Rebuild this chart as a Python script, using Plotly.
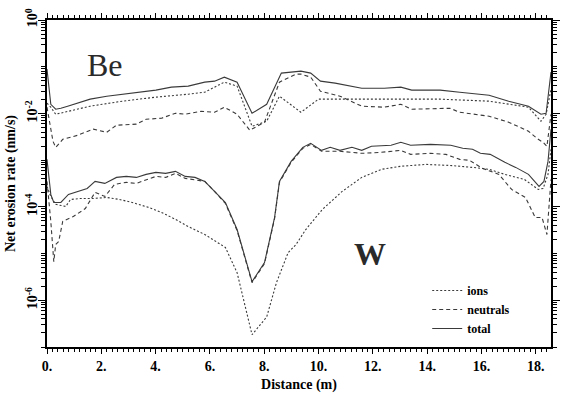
import plotly.graph_objects as go

# ---------------- data ----------------
be_total_x = [0.0, 0.14, 0.32, 0.51, 0.76, 1.59, 2.20, 2.78, 3.39, 4.01, 4.58, 5.20, 5.81, 6.17, 6.53, 7.00,
              7.55, 8.09, 8.63, 9.17, 9.35, 9.71, 10.07, 10.61, 11.59, 12.42, 13.03, 13.43, 14.48, 15.20,
              16.28, 17.00, 17.73, 18.19, 18.38, 18.56]
be_total_y = [8.9e-2, 1.57e-2, 1.23e-2, 1.29e-2, 1.43e-2, 2.02e-2, 2.34e-2, 2.58e-2, 2.85e-2, 3.15e-2, 3.65e-2,
              3.84e-2, 4.67e-2, 4.91e-2, 5.98e-2, 4.67e-2, 1.01e-2, 1.57e-2, 7.29e-2, 8.05e-2, 8.05e-2, 7.29e-2,
              4.91e-2, 4.45e-2, 3.47e-2, 3.47e-2, 3.65e-2, 3.15e-2, 3.15e-2, 2.85e-2, 2.46e-2, 1.83e-2,
              1.43e-2, 9.6e-3, 1.01e-2, 7.66e-2]

be_ions_x = [0.0, 0.14, 0.32, 0.76, 1.59, 2.78, 4.01, 5.20, 5.81, 6.53, 7.00, 7.55, 8.09, 8.56, 9.35, 10.0,
             10.97, 14.48, 16.28, 17.73, 18.19, 18.38, 18.56]
be_ions_y = [1.66e-2, 1.36e-2, 9.6e-3, 1.11e-2, 1.43e-2, 1.83e-2, 2.23e-2, 2.58e-2, 2.85e-2, 4.67e-2, 3.84e-2,
             5.3e-3, 6.8e-3, 2.34e-2, 1.06e-2, 2.02e-2, 2.02e-2, 2.02e-2, 1.83e-2, 1.36e-2, 6.8e-3, 9.6e-3,
             3.3e-2]

be_neut_x = [0.0, 0.22, 0.32, 0.58, 1.12, 1.70, 2.20, 2.56, 3.29, 3.65, 4.22, 4.73, 5.09, 5.67, 6.17, 6.53,
             7.00, 7.47, 8.01, 8.56, 9.17, 9.35, 9.71, 10.07, 10.79, 11.59, 12.42, 13.03, 13.43, 14.84,
             15.20, 16.28, 17.00, 17.73, 18.09, 18.27, 18.41, 18.56]
be_neut_y = [1.36e-2, 2.53e-3, 1.88e-3, 2.79e-3, 3.4e-3, 4.6e-3, 3.95e-3, 5.6e-3, 5.9e-3, 7.5e-3, 7.9e-3,
             1.01e-2, 9.6e-3, 1.11e-2, 1.06e-2, 1.36e-2, 9.6e-3, 4.36e-3, 6.5e-3, 4.67e-2, 6.94e-2, 6.94e-2,
             5.98e-2, 2.99e-2, 2.34e-2, 1.43e-2, 1.36e-2, 1.57e-2, 1.23e-2, 1.29e-2, 1.06e-2, 8.7e-3,
             6.5e-3, 4.15e-3, 2.79e-3, 2.41e-3, 1.98e-3, 9.6e-3]

w_total_x = [0.0, 0.14, 0.25, 0.51, 0.79, 1.12, 1.48, 1.77, 2.13, 2.56, 2.92, 3.29, 3.65, 4.01, 4.37, 4.73,
             5.09, 5.45, 5.81, 6.17, 6.57, 7.00, 7.55, 8.01, 8.38, 8.56, 8.99, 9.42, 9.71, 10.11, 10.43,
             10.79, 11.23, 11.59, 11.95, 12.67, 13.03, 13.39, 14.12, 14.87, 15.31, 15.67, 15.96, 16.32,
             16.86, 17.26, 17.73, 18.12, 18.30, 18.45, 18.56]
w_total_y = [1.04e-3, 1.85e-4, 1.24e-4, 1.24e-4, 1.85e-4, 2.14e-4, 2.48e-4, 3.51e-4, 3.18e-4, 4.27e-4, 4.49e-4,
             4.27e-4, 4.96e-4, 5.47e-4, 5.21e-4, 5.75e-4, 4.49e-4, 4.27e-4, 3.51e-4, 2.14e-4, 1.24e-4, 3.27e-5,
             2.5e-6, 6.4e-6, 5.9e-5, 3.51e-4, 9.4e-4, 1.88e-3, 2.29e-3, 1.62e-3, 1.88e-3, 1.62e-3, 1.88e-3,
             1.62e-3, 1.98e-3, 2.08e-3, 2.41e-3, 2.08e-3, 2.18e-3, 2.08e-3, 1.79e-3, 1.71e-3, 1.40e-3,
             1.33e-3, 8.97e-4, 7.0e-4, 4.96e-4, 2.74e-4, 3.51e-4, 9.4e-4, 4.6e-3]

w_neut_x = [0.0, 0.14, 0.25, 0.32, 0.43, 0.58, 0.97, 1.41, 1.77, 2.13, 2.49, 2.92, 3.29, 4.01, 4.37, 4.73,
            5.09, 5.81, 6.17, 6.57, 7.00, 7.55, 8.01, 8.38, 8.56, 8.99, 9.42, 9.71, 10.11, 10.79, 11.59,
            12.31, 13.03, 13.39, 14.12, 14.69, 15.20, 15.56, 16.03, 16.64, 17.11, 17.62, 17.98, 18.23,
            18.41, 18.56]
w_neut_y = [3.51e-4, 4.9e-5, 6.7e-6, 1.56e-5, 1.81e-5, 4.9e-5, 6.2e-5, 9.2e-5, 2.04e-4, 1.67e-4, 3.03e-4,
            3.34e-4, 3.18e-4, 4.49e-4, 4.27e-4, 5.21e-4, 4.07e-4, 3.51e-4, 2.14e-4, 1.18e-4, 3.1e-5, 2.39e-6,
            6.1e-6, 5.6e-5, 3.34e-4, 8.97e-4, 1.79e-3, 2.18e-3, 1.55e-3, 1.55e-3, 1.40e-3, 1.47e-3, 1.62e-3,
            1.33e-3, 1.40e-3, 1.33e-3, 1.04e-3, 9.9e-4, 6.7e-4, 4.96e-4, 2.36e-4, 1.59e-4, 5.9e-5, 5.9e-5,
            2.56e-5, 3.87e-4]

w_ions_x = [0.0, 0.14, 0.32, 0.69, 0.87, 1.23, 1.70, 2.20, 2.67, 3.14, 3.75, 4.22, 4.73, 5.20, 5.81, 6.39,
            6.57, 7.00, 7.29, 7.55, 8.09, 8.45, 8.88, 9.17, 9.53, 10.14, 10.87, 11.59, 12.31, 13.03, 13.97,
            14.84, 15.67, 16.28, 16.86, 17.58, 18.09, 18.27, 18.45, 18.56]
w_ions_y = [2.74e-4, 1.67e-4, 1.13e-4, 1.02e-4, 1.44e-4, 1.51e-4, 1.51e-4, 1.59e-4, 1.44e-4, 1.24e-4, 9.7e-5,
            7.6e-5, 5.4e-5, 3.8e-5, 2.56e-5, 1.56e-5, 1.35e-5, 3.9e-6, 7.3e-7, 1.83e-7, 4.4e-7, 2.39e-6,
            1.05e-5, 1.56e-5, 3.27e-5, 8.8e-5, 2.14e-4, 4.27e-4, 6.35e-4, 7.4e-4, 8.1e-4, 7.7e-4, 7.0e-4,
            6.35e-4, 4.96e-4, 3.87e-4, 2.36e-4, 2.48e-4, 4.96e-4, 1.71e-3]

x_tick_vals = list(range(0, 19, 2))
x_tick_text = [f"{v}." for v in x_tick_vals]
y_tick_vals = [1, 1e-2, 1e-4, 1e-6]
y_tick_text = ["10<sup>0</sup>", "10<sup>-2</sup>", "10<sup>-4</sup>", "10<sup>-6</sup>"]

# ---------------- styles ----------------
FONT = "Liberation Serif"
LINE_COLOR = "#3a3a3a"
styles = {
    "ions": dict(color=LINE_COLOR, width=1.1, dash="2px,2px"),
    "neutrals": dict(color=LINE_COLOR, width=1.1, dash="4px,3px"),
    "total": dict(color=LINE_COLOR, width=1.1),
}

fig = go.Figure()
series = [
    ("ions", be_ions_x, be_ions_y, w_ions_x, w_ions_y),
    ("neutrals", be_neut_x, be_neut_y, w_neut_x, w_neut_y),
    ("total", be_total_x, be_total_y, w_total_x, w_total_y),
]
for name, bx, by, wx, wy in series:
    fig.add_trace(go.Scatter(x=bx, y=by, mode="lines", name=name, line=styles[name],
                             legendgroup=name, showlegend=True))
    fig.add_trace(go.Scatter(x=wx, y=wy, mode="lines", name=name, line=styles[name],
                             legendgroup=name, showlegend=False))

L, R, T, B = 47, 4, 20, 49
W, H = 564, 396
pw, ph = W - L - R, H - T - B

def px_x(p):
    return (p - L) / pw

def px_y(p):
    return (H - B - p) / ph

fig.update_layout(
    width=W, height=H,
    margin=dict(l=L, r=R, t=T, b=B, pad=0),
    paper_bgcolor="white", plot_bgcolor="white",
    font=dict(family=FONT, size=12, color="black"),
    showlegend=True,
    legend=dict(x=px_x(434), y=px_y(276), xanchor="left", yanchor="top",
                tracegroupgap=0,
                font=dict(family=FONT, size=12, color="black", weight="bold")),
    xaxis=dict(
        range=[0, 18.56],
        showline=True, linecolor="black", linewidth=2, mirror="ticks",
        ticks="outside", ticklen=5, tickcolor="black",
        tickmode="array", tickvals=x_tick_vals, ticktext=x_tick_text,
        tickfont=dict(family=FONT, size=14, color="black", weight="bold"),
        minor=dict(ticks="outside", ticklen=3, dtick=0.2, tick0=0),
        title=dict(text="Distance (m)", standoff=6,
                   font=dict(family=FONT, size=14, color="black", weight="bold")),
    ),
    yaxis=dict(
        type="log", range=[-7, 0],
        showline=True, linecolor="black", linewidth=2, mirror="ticks",
        ticks="outside", ticklen=7, tickcolor="black",
        tickmode="array", tickvals=y_tick_vals, ticktext=y_tick_text,
        tickangle=-90, ticklabelstandoff=-5,
        tickfont=dict(family=FONT, size=14, color="black", weight="bold"),
        minor=dict(ticks="outside", ticklen=4, dtick="D1"),
        title=dict(text="Net erosion rate (nm/s)", standoff=4,
                   font=dict(family=FONT, size=14, color="black", weight="bold")),
    ),
    annotations=[
        dict(text="Be", xref="paper", yref="paper", x=px_x(106), y=px_y(65),
             showarrow=False, xanchor="center", yanchor="middle",
             font=dict(family=FONT, size=32, color="#2a2a2a")),
        dict(text="W", xref="paper", yref="paper", x=px_x(376), y=px_y(254),
             showarrow=False, xanchor="center", yanchor="middle",
             font=dict(family=FONT, size=32, color="#2a2a2a", weight="bold")),
    ],
)

fig.write_html("out.html")
